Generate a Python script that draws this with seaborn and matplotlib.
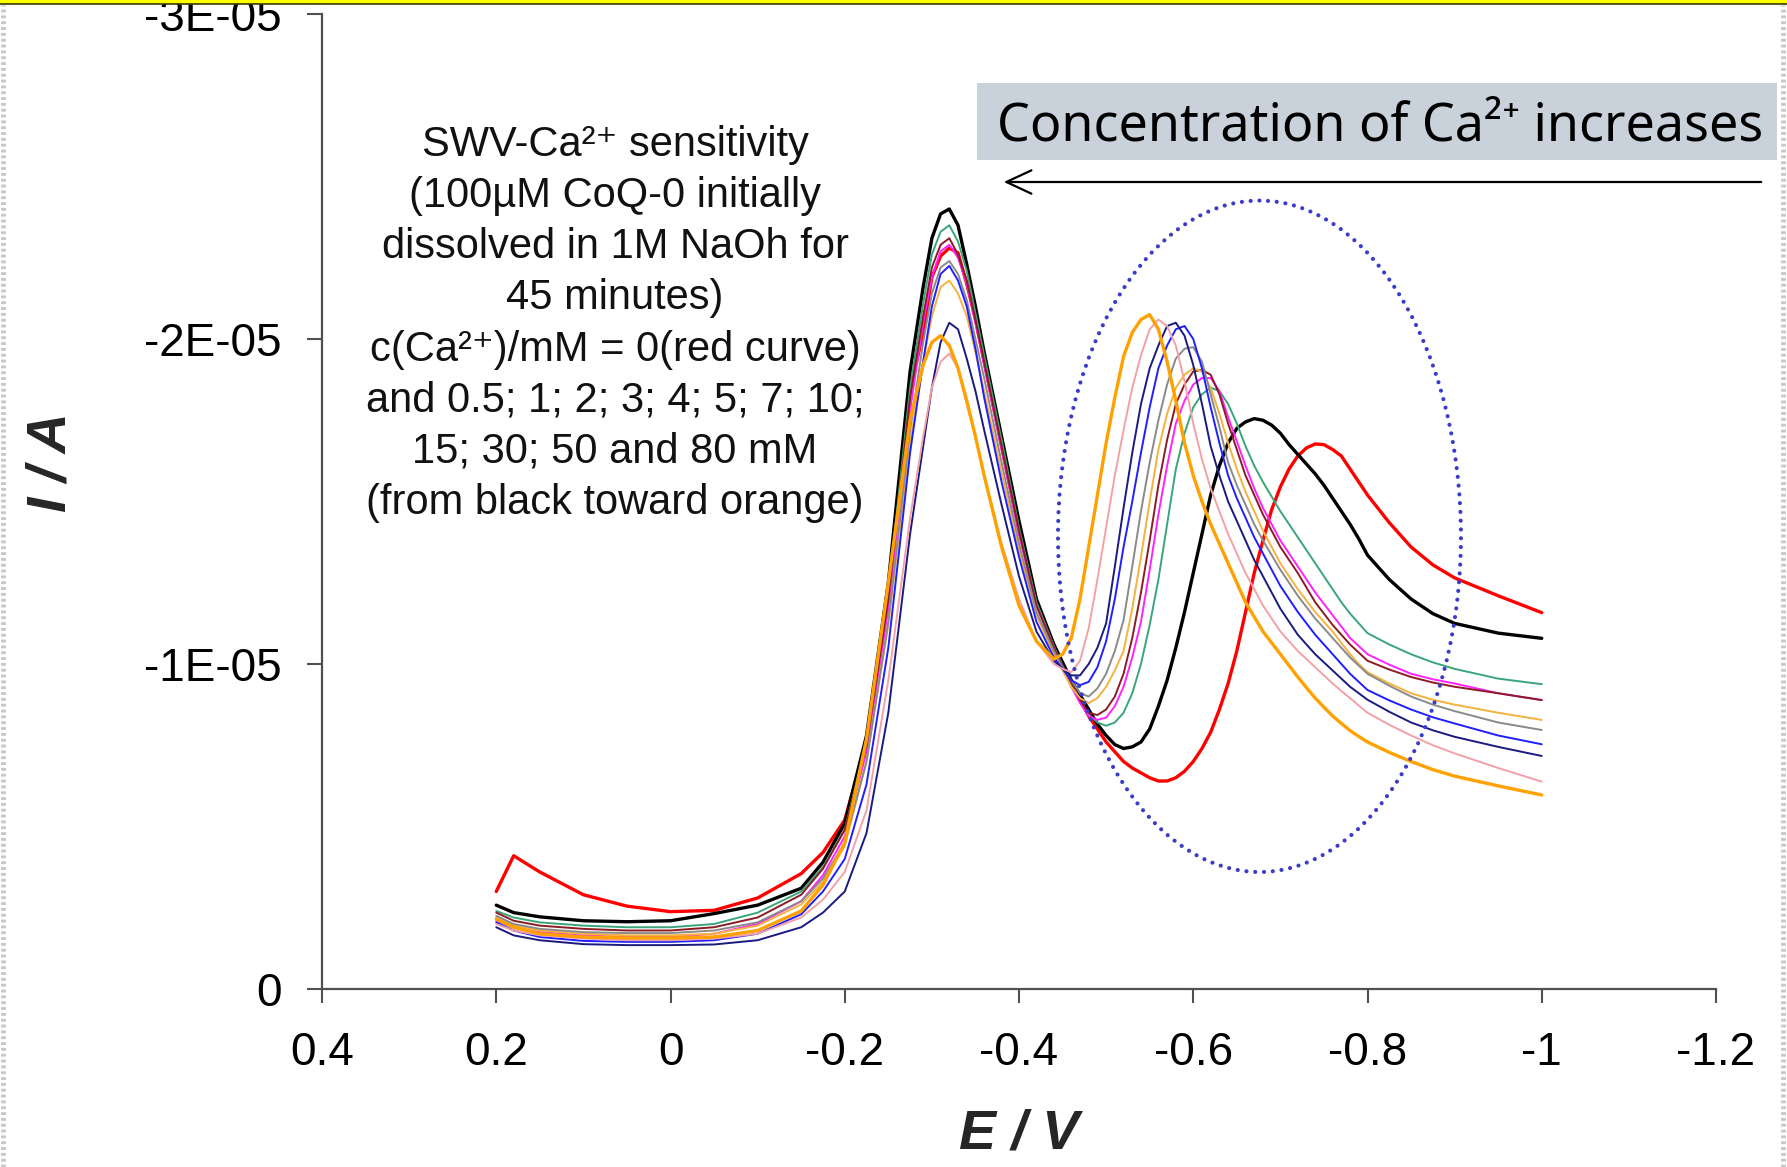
import numpy as np
import pandas as pd
import matplotlib
matplotlib.use("Agg")
import matplotlib.pyplot as plt
import seaborn as sns
from matplotlib.patches import Ellipse, Rectangle, FancyArrowPatch
from matplotlib.lines import Line2D

# ---------------- data (current in units of 1E-05 A) ----------------
E_V = [0.20, 0.18, 0.15, 0.10, 0.05, 0.00, -0.05, -0.10, -0.15, -0.175, -0.20, -0.225, -0.25, -0.275,
       -0.29, -0.30, -0.31, -0.32, -0.33, -0.34, -0.35, -0.36,
       -0.38, -0.40, -0.42, -0.44,
       -0.45, -0.46, -0.47, -0.48, -0.49, -0.50, -0.51, -0.52, -0.53, -0.54,
       -0.55, -0.56, -0.57, -0.58, -0.59, -0.60, -0.61, -0.62, -0.63, -0.64,
       -0.65, -0.66, -0.67, -0.68, -0.69, -0.70, -0.71, -0.72,
       -0.73, -0.74, -0.75, -0.76, -0.77, -0.78, -0.79, -0.80,
       -0.825, -0.85, -0.875, -0.90, -0.95, -1.00]

I_red = [-0.30, -0.41, -0.36, -0.29, -0.255, -0.238, -0.242, -0.28, -0.355, -0.42, -0.52, -0.76, -1.22, -1.84,
         -2.02, -2.19, -2.255, -2.28, -2.265, -2.17, -2.06, -1.93,
         -1.67, -1.41, -1.19, -1.06,
         -1.00, -0.94, -0.89, -0.84, -0.80, -0.76, -0.73, -0.70, -0.68, -0.665,
         -0.65, -0.64, -0.64, -0.65, -0.67, -0.70, -0.74, -0.79, -0.86, -0.94,
         -1.04, -1.16, -1.28, -1.38, -1.475, -1.545, -1.60, -1.64,
         -1.665, -1.677, -1.675, -1.66, -1.64, -1.60, -1.56, -1.52,
         -1.435, -1.36, -1.305, -1.265, -1.21, -1.158]
I_black = [-0.258, -0.235, -0.222, -0.21, -0.207, -0.21, -0.232, -0.258, -0.31, -0.39, -0.51, -0.78, -1.25, -1.90,
           -2.16, -2.31, -2.385, -2.40, -2.35, -2.23, -2.10, -1.96,
           -1.70, -1.44, -1.20, -1.06,
           -1.005, -0.95, -0.905, -0.86, -0.815, -0.78, -0.752, -0.74, -0.745, -0.76,
           -0.80, -0.87, -0.95, -1.05, -1.16, -1.28, -1.40, -1.52, -1.61, -1.68,
           -1.725, -1.745, -1.755, -1.75, -1.735, -1.71, -1.675, -1.645,
           -1.615, -1.585, -1.55, -1.51, -1.47, -1.43, -1.385, -1.335,
           -1.26, -1.20, -1.155, -1.125, -1.095, -1.079]
I_green = [-0.24, -0.22, -0.205, -0.195, -0.19, -0.19, -0.20, -0.235, -0.30, -0.375, -0.49, -0.76, -1.22, -1.85,
           -2.11, -2.26, -2.33, -2.35, -2.30, -2.21, -2.08, -1.95,
           -1.69, -1.42, -1.19, -1.055,
           -0.995, -0.94, -0.89, -0.845, -0.82, -0.81, -0.82, -0.85, -0.91, -1.00,
           -1.12, -1.26, -1.43, -1.60, -1.71, -1.79, -1.83, -1.85, -1.84, -1.80,
           -1.74, -1.67, -1.61, -1.56, -1.515, -1.47, -1.43, -1.39,
           -1.35, -1.31, -1.27, -1.23, -1.19, -1.155, -1.125, -1.095,
           -1.06, -1.03, -1.005, -0.985, -0.955, -0.938]
I_magenta = [-0.21, -0.19, -0.175, -0.165, -0.16, -0.16, -0.17, -0.20, -0.27, -0.35, -0.47, -0.73, -1.17, -1.78,
             -2.05, -2.19, -2.27, -2.29, -2.25, -2.17, -2.05, -1.92,
             -1.66, -1.40, -1.18, -1.05,
             -0.99, -0.93, -0.88, -0.84, -0.828, -0.835, -0.87, -0.93, -1.02, -1.13,
             -1.29, -1.46, -1.61, -1.74, -1.81, -1.86, -1.88, -1.88, -1.84, -1.76,
             -1.685, -1.61, -1.54, -1.48, -1.43, -1.38, -1.34, -1.30,
             -1.26, -1.22, -1.185, -1.15, -1.115, -1.08, -1.055, -1.03,
             -0.998, -0.97, -0.953, -0.94, -0.91, -0.889]
I_maroon = [-0.235, -0.21, -0.195, -0.185, -0.18, -0.18, -0.19, -0.22, -0.29, -0.37, -0.49, -0.75, -1.20, -1.82,
            -2.07, -2.22, -2.29, -2.31, -2.26, -2.18, -2.06, -1.93,
            -1.67, -1.41, -1.18, -1.05,
            -0.995, -0.94, -0.89, -0.85, -0.843, -0.86, -0.90, -0.97, -1.08, -1.22,
            -1.38, -1.55, -1.69, -1.80, -1.86, -1.90, -1.905, -1.89, -1.83, -1.74,
            -1.66, -1.58, -1.52, -1.46, -1.41, -1.36, -1.32, -1.28,
            -1.235, -1.19, -1.155, -1.12, -1.09, -1.06, -1.035, -1.01,
            -0.983, -0.96, -0.943, -0.93, -0.91, -0.889]
I_lightorange = [-0.22, -0.195, -0.18, -0.17, -0.165, -0.165, -0.17, -0.195, -0.26, -0.33, -0.44, -0.70, -1.12, -1.68,
                 -1.93, -2.07, -2.16, -2.18, -2.14, -2.07, -1.96, -1.84,
                 -1.59, -1.35, -1.15, -1.03,
                 -0.98, -0.93, -0.895, -0.88, -0.895, -0.93, -0.98, -1.04, -1.17, -1.33,
                 -1.50, -1.66, -1.77, -1.85, -1.89, -1.91, -1.90, -1.85, -1.77, -1.68,
                 -1.60, -1.53, -1.47, -1.41, -1.36, -1.31, -1.27, -1.23,
                 -1.195, -1.16, -1.13, -1.10, -1.065, -1.03, -1.00, -0.975,
                 -0.94, -0.91, -0.89, -0.875, -0.85, -0.828]
I_gray = [-0.225, -0.20, -0.185, -0.175, -0.172, -0.172, -0.18, -0.205, -0.27, -0.34, -0.45, -0.70, -1.13, -1.72,
          -1.99, -2.14, -2.22, -2.24, -2.20, -2.12, -2.00, -1.88,
          -1.62, -1.37, -1.16, -1.04,
          -0.99, -0.95, -0.91, -0.90, -0.925, -0.97, -1.04, -1.135, -1.30, -1.47,
          -1.62, -1.75, -1.86, -1.94, -1.97, -1.975, -1.93, -1.83, -1.73, -1.62,
          -1.55, -1.49, -1.43, -1.38, -1.335, -1.29, -1.25, -1.21,
          -1.175, -1.14, -1.11, -1.08, -1.05, -1.02, -0.995, -0.97,
          -0.933, -0.90, -0.875, -0.855, -0.82, -0.797]
I_blue = [-0.205, -0.18, -0.16, -0.148, -0.145, -0.145, -0.15, -0.17, -0.23, -0.30, -0.40, -0.63, -1.05, -1.65,
          -1.93, -2.10, -2.20, -2.225, -2.18, -2.10, -1.97, -1.82,
          -1.56, -1.33, -1.13, -1.02,
          -0.985, -0.95, -0.935, -0.945, -0.99, -1.07, -1.20, -1.36, -1.50, -1.65,
          -1.79, -1.91, -1.98, -2.03, -2.04, -2.00, -1.91, -1.79, -1.68, -1.58,
          -1.51, -1.45, -1.39, -1.34, -1.29, -1.24, -1.20, -1.16,
          -1.125, -1.09, -1.06, -1.03, -1.00, -0.97, -0.945, -0.92,
          -0.888, -0.86, -0.836, -0.817, -0.78, -0.753]
I_navy = [-0.19, -0.165, -0.15, -0.138, -0.135, -0.135, -0.137, -0.15, -0.19, -0.235, -0.30, -0.48, -0.85, -1.40,
          -1.67, -1.85, -1.99, -2.05, -2.03, -1.94, -1.84, -1.72,
          -1.49, -1.27, -1.10, -1.01,
          -0.985, -0.965, -0.965, -1.00, -1.05, -1.125, -1.30, -1.48, -1.65, -1.80,
          -1.91, -1.98, -2.04, -2.05, -2.01, -1.92, -1.80, -1.67, -1.58, -1.50,
          -1.44, -1.38, -1.32, -1.27, -1.22, -1.17, -1.13, -1.09,
          -1.06, -1.03, -1.005, -0.98, -0.955, -0.93, -0.91, -0.89,
          -0.853, -0.82, -0.796, -0.776, -0.745, -0.717]
I_pink = [-0.20, -0.18, -0.165, -0.155, -0.15, -0.15, -0.155, -0.17, -0.22, -0.275, -0.36, -0.55, -0.95, -1.45,
          -1.70, -1.85, -1.93, -1.955, -1.91, -1.80, -1.70, -1.58,
          -1.37, -1.20, -1.07, -1.00,
          -0.985, -0.975, -1.01, -1.11, -1.26, -1.42, -1.58, -1.72, -1.85, -1.95,
          -2.03, -2.06, -2.04, -1.98, -1.87, -1.74, -1.63, -1.54, -1.47, -1.40,
          -1.34, -1.28, -1.23, -1.18, -1.14, -1.10, -1.07, -1.04,
          -1.015, -0.99, -0.965, -0.94, -0.917, -0.895, -0.872, -0.85,
          -0.813, -0.78, -0.75, -0.725, -0.68, -0.638]
I_orange = [-0.215, -0.19, -0.17, -0.16, -0.157, -0.157, -0.16, -0.18, -0.24, -0.32, -0.45, -0.77, -1.25, -1.75,
            -1.92, -1.99, -2.01, -1.98, -1.91, -1.81, -1.70, -1.58,
            -1.36, -1.18, -1.07, -1.015,
            -1.03, -1.08, -1.20, -1.36, -1.52, -1.68, -1.82, -1.946, -2.02, -2.06,
            -2.075, -2.03, -1.93, -1.81, -1.68, -1.58, -1.50, -1.43, -1.37, -1.31,
            -1.25, -1.19, -1.145, -1.10, -1.065, -1.03, -0.995, -0.96,
            -0.927, -0.895, -0.867, -0.84, -0.817, -0.795, -0.777, -0.76,
            -0.728, -0.70, -0.675, -0.655, -0.625, -0.597]

SERIES = ["red", "black", "green", "magenta", "maroon", "lightorange",
          "gray", "blue", "navy", "pink", "orange"]
SERIES_VALUES = [I_red, I_black, I_green, I_magenta, I_maroon, I_lightorange,
                 I_gray, I_blue, I_navy, I_pink, I_orange]
UNIT = 1e-5

X_TICKS = [0.4, 0.2, 0.0, -0.2, -0.4, -0.6, -0.8, -1.0, -1.2]
X_TICK_LABELS = ["0.4", "0.2", "0", "-0.2", "-0.4", "-0.6", "-0.8", "-1", "-1.2"]
Y_TICKS = [0.0, -1e-5, -2e-5, -3e-5]
Y_TICK_LABELS = ["0", "-1E-05", "-2E-05", "-3E-05"]

NOTE_LINES = ["SWV-Ca²⁺ sensitivity",
              "(100µM CoQ-0 initially",
              "dissolved in 1M NaOh for",
              "45 minutes)",
              "c(Ca²⁺)/mM = 0(red curve)",
              "and 0.5; 1; 2; 3; 4; 5; 7; 10;",
              "15; 30; 50 and 80 mM",
              "(from black toward orange)"]
BANNER = "Concentration of Ca²⁺ increases"

for v in SERIES_VALUES:
    assert len(v) == len(E_V), len(v)

# ---------------- styles ----------------
STYLE = {
    "red": ("#FF0000", 2.4), "black": ("#000000", 2.4), "green": ("#3AA57A", 1.4),
    "magenta": ("#FF22FF", 1.4), "maroon": ("#8B1C24", 1.4), "lightorange": ("#F6B23E", 1.4),
    "gray": ("#8A8A8A", 1.4), "blue": ("#1F1FFF", 1.4), "navy": ("#1A1A80", 1.4),
    "pink": ("#F4A0A8", 1.4), "orange": ("#FFA100", 2.4),
}

df = pd.DataFrame({
    "E": np.tile(E_V, len(SERIES)),
    "I": np.concatenate([np.asarray(v) * UNIT for v in SERIES_VALUES]),
    "series": np.repeat(SERIES, len(E_V)),
})

sns.set_theme(style="white")
plt.rcParams["font.family"] = ["Liberation Sans", "DejaVu Sans"]

W, H = 1787, 1167
fig = plt.figure(figsize=(W / 100, H / 100), dpi=100)
fig.patch.set_facecolor("white")
ax = fig.add_axes([322 / W, 1 - 989 / H, (1716 - 322) / W, (989 - 14) / H])
ax.set_facecolor("none")

for name in SERIES:
    col, lw = STYLE[name]
    sns.lineplot(data=df[df["series"] == name], x="E", y="I", color=col, linewidth=lw,
                 sort=False, estimator=None, errorbar=None, legend=False, ax=ax,
                 solid_joinstyle="round", solid_capstyle="round")

ax.set_xlim(0.4, -1.2)
ax.set_ylim(0, -3e-5)
ax.set_xticks(X_TICKS)
ax.set_xticklabels(X_TICK_LABELS)
ax.set_yticks(Y_TICKS)
ax.set_yticklabels(Y_TICK_LABELS)
for s in ["top", "right"]:
    ax.spines[s].set_visible(False)
for s in ["left", "bottom"]:
    ax.spines[s].set_color("#505050")
    ax.spines[s].set_linewidth(1.6)
ax.tick_params(axis="both", direction="out", width=1.5, color="#505050",
               labelsize=33, labelcolor="black", left=True, bottom=True)
ax.tick_params(axis="y", length=11, pad=18)
ax.tick_params(axis="x", length=10, pad=20)
ax.set_xlabel("E / V", fontsize=40, fontweight="bold", fontstyle="italic",
              ha="center", va="center")
ax.xaxis.set_label_coords(0.5, -0.149)
ax.set_ylabel("I / A", fontsize=40, fontweight="bold", fontstyle="italic",
              ha="center", va="center")
ax.yaxis.set_label_coords(-0.194, 0.54)

# dotted ellipse around the second peaks
ell = Ellipse((-0.676, -1.393e-5), 0.4625, 2.066e-5, fill=False, edgecolor="#3C3CCC",
              linewidth=3.0, linestyle=(0, (0.01, 2.1)), zorder=5)
ell.set_capstyle("round")
ax.add_patch(ell)

def fx(px):
    return px / W

def fy(py):
    return 1 - py / H

# annotation text block
for i, line in enumerate(NOTE_LINES):
    fig.text(fx(615), fy(144.7 + i * 51.2), line, fontsize=30, ha="center", va="center",
             color="#111111")

# banner box + arrow
fig.add_artist(Rectangle((fx(977), fy(160)), fx(1777) - fx(977), (160 - 83) / H,
                         transform=fig.transFigure, facecolor="#C9D1DB", edgecolor="none"))
fig.text(fx(997), fy(127), BANNER, fontsize=37.5, ha="left", va="center",
         family=["Noto Sans", "DejaVu Sans"], color="black")
fig.add_artist(FancyArrowPatch((fx(1764), fy(182)), (fx(1001), fy(182)),
                               transform=fig.transFigure,
                               arrowstyle="->,head_length=0.6,head_width=0.28",
                               mutation_scale=30, linewidth=1.6, color="black"))

# slide frame decorations
fig.add_artist(Rectangle((0, fy(4)), 1, 4 / H, transform=fig.transFigure,
                         facecolor="#FFFF00", edgecolor="none"))
fig.add_artist(Line2D([0, 1], [fy(4), fy(4)], transform=fig.transFigure,
                      color="#3A3A00", linewidth=1.2))
for xb in (3, 1783):
    fig.add_artist(Line2D([fx(xb), fx(xb)], [0, fy(5)], transform=fig.transFigure,
                          color="#C8C8C8", linewidth=3.5, linestyle=(0, (0.6, 0.6))))

fig.savefig("out.png", dpi=100)
